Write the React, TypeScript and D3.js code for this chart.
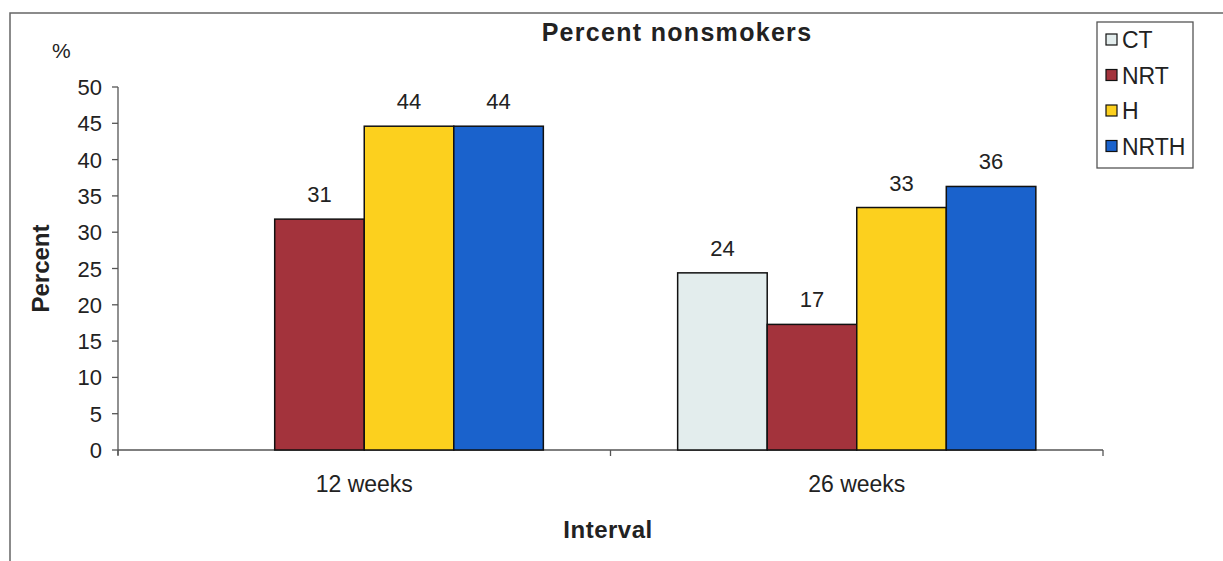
import React from "react";
import * as d3 from "d3";

const categories = ["12 weeks", "26 weeks"];
const series = ["CT", "NRT", "H", "NRTH"];
const colors = ["#e3eded", "#a3333c", "#fcd01e", "#1a62cc"];
const ctValues = [null, 24.4];
const nrtValues = [31.8, 17.3];
const hValues = [44.6, 33.4];
const nrthValues = [44.6, 36.3];
const ctLabels = ["", "24"];
const nrtLabels = ["31", "17"];
const hLabels = ["44", "33"];
const nrthLabels = ["44", "36"];
const yTicks = [0, 5, 10, 15, 20, 25, 30, 35, 40, 45, 50];

const seriesValues = [ctValues, nrtValues, hValues, nrthValues];
const seriesLabels = [ctLabels, nrtLabels, hLabels, nrthLabels];

export default function App() {
  const W = 1223, H = 561;
  const left = 118, right = 1103, top = 87, bottom = 450;
  const x = d3.scaleBand().domain(categories).range([left, right]).padding(0);
  const x1 = d3.scaleBand().domain(series).range([0, x.bandwidth()]).paddingInner(0).paddingOuter(0.75);
  const y = d3.scaleLinear().domain([0, 50]).range([bottom, top]);
  const font = "Arial, 'Liberation Sans', sans-serif";
  const axisColor = "#555";

  const bars: any[] = [];
  series.forEach((s, si) => {
    categories.forEach((c, ci) => {
      const v = seriesValues[si][ci];
      if (v == null) return;
      const bx = (x(c) as number) + (x1(s) as number);
      bars.push(
        <g key={s + c}>
          <rect x={bx} y={y(v)} width={x1.bandwidth()} height={y(0) - y(v)}
            fill={colors[si]} stroke="#111" strokeWidth={1.5} />
          <text x={bx + x1.bandwidth() / 2} y={y(v) - 17} textAnchor="middle"
            fontSize={22} fontFamily={font} fill="#222">{seriesLabels[si][ci]}</text>
        </g>
      );
    });
  });

  return (
    <svg width={W} height={H} style={{ position: "absolute", left: 0, top: 0, background: "#fff" }}>
      <rect x={0} y={0} width={W} height={H} fill="#fff" />
      {/* frame */}
      <path d={`M10,${H} L10,13 L${W},13`} fill="none" stroke="#666" strokeWidth={1.5} />
      <text x={677} y={41} textAnchor="middle" fontSize={25} fontWeight="bold" letterSpacing={1.3}
        fontFamily={font} fill="#222">Percent nonsmokers</text>
      <text x={52} y={58} fontSize={21} fontFamily={font} fill="#222">%</text>
      <text transform={`translate(49,${(top + bottom) / 2}) rotate(-90)`} textAnchor="middle"
        fontSize={24} fontWeight="bold" fontFamily={font} fill="#222">Percent</text>
      <text x={608} y={538} textAnchor="middle" fontSize={24} fontWeight="bold" letterSpacing={0.5}
        fontFamily={font} fill="#222">Interval</text>
      {/* y axis */}
      <line x1={left} x2={left} y1={top} y2={bottom + 5} stroke={axisColor} strokeWidth={1.3} />
      {yTicks.map((t) => (
        <g key={t}>
          <line x1={left - 6} x2={left} y1={y(t)} y2={y(t)} stroke={axisColor} strokeWidth={1.3} />
          <text x={102} y={y(t) + 8} textAnchor="end" fontSize={22} fontFamily={font} fill="#222">{t}</text>
        </g>
      ))}
      {/* x axis */}
      <line x1={left} x2={right} y1={bottom} y2={bottom} stroke={axisColor} strokeWidth={1.3} />
      {[...categories.map((c) => x(c) as number), right].map((px, i) => (
        <line key={i} x1={px} x2={px} y1={bottom} y2={bottom + 6} stroke={axisColor} strokeWidth={1.3} />
      ))}
      {categories.map((c) => (
        <text key={c} x={(x(c) as number) + x.bandwidth() / 2} y={492} textAnchor="middle"
          fontSize={23} fontFamily={font} fill="#222">{c}</text>
      ))}
      {bars}
      {/* legend */}
      <rect x={1097} y={22} width={96} height={146} fill="#fff" stroke="#555" strokeWidth={1.3} />
      {series.map((s, i) => (
        <g key={s} transform={`translate(1106,${40 + i * 35.5})`}>
          <rect x={0} y={-6} width={11} height={11} fill={colors[i]} stroke="#111" strokeWidth={1.2} />
          <text x={16} y={8} fontSize={23} fontFamily={font} fill="#222">{s}</text>
        </g>
      ))}
    </svg>
  );
}
